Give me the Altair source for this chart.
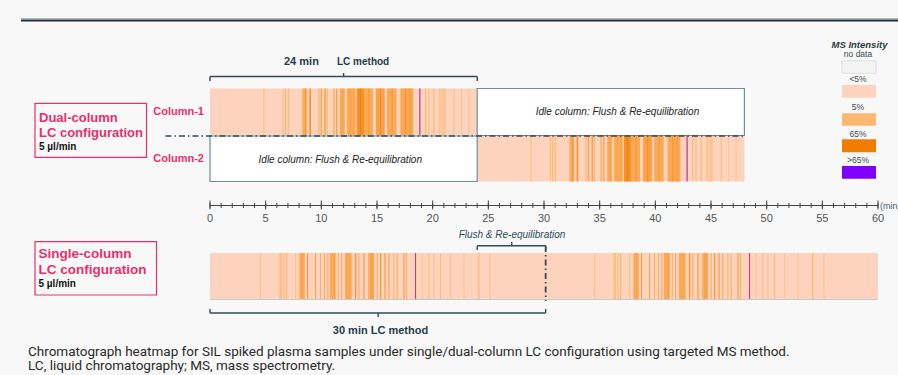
import altair as alt
import pandas as pd

# ---------------- data ----------------
# Dual-column chromatogram stripes: start time [min], width [min], MS intensity [%]
dual_t = [4.79, 6.53, 6.74, 6.98, 8.29, 8.52, 8.92, 9.73, 9.94, 10.27, 10.48, 11.08, 11.32,
          11.68, 12.28, 12.55, 12.85, 13.18, 13.45, 13.83, 14.2, 14.9, 15.25, 15.9, 16.3,
          17.1, 17.5, 17.9, 18.8, 19.31, 19.6, 20.06, 20.6, 20.82, 21.86, 22.55, 23.2]
dual_w = [0.10, 0.10, 0.10, 0.10, 0.42, 0.10, 0.16, 0.10, 0.12, 0.12, 0.10, 0.12, 0.12,
          0.42, 0.80, 0.10, 0.10, 0.65, 0.10, 0.80, 0.12, 0.80, 0.12, 0.85, 0.12,
          1.15, 0.12, 0.12, 0.10, 0.10, 0.10, 0.10, 0.10, 0.35, 0.10, 0.10, 0.10]
dual_i = [4, 5, 9, 5, 18, 36, 38, 12, 26, 34, 9, 18, 26,
          22, 17, 30, 26, 44, 60, 20, 34, 27, 45, 19, 32,
          21, 36, 32, 88, 5, 4, 7, 5, 3, 4, 3, 3]

# Single-column chromatogram stripes (one 30-min injection, repeated)
single_t = [4.49, 6.23, 6.35, 6.59, 6.83, 7.64, 8.02, 8.23, 8.71, 9.43, 9.88, 10.24, 10.54,
            10.78, 11.17, 11.47, 11.77, 12.13, 13.02, 13.32, 13.77, 14.22, 14.37, 14.97,
            15.27, 15.66, 16.02, 16.47, 16.77, 17.37, 17.6, 18.41, 19.01, 19.61, 20.06,
            20.66, 21.56, 22.76, 24.1, 25.09]
single_w = [0.10, 0.10, 0.10, 0.10, 0.10, 0.10, 0.50, 0.10, 0.10, 0.10, 0.10, 0.10, 0.10,
            0.45, 0.10, 0.10, 0.10, 0.60, 0.12, 0.10, 0.12, 0.12, 0.36, 0.10,
            0.12, 0.12, 0.10, 0.10, 0.10, 0.12, 0.10, 0.10, 0.10, 0.10, 0.10,
            0.10, 0.10, 0.10, 0.10, 0.10]
single_i = [3, 4, 9, 5, 9, 3, 16, 32, 36, 24, 9, 14, 19,
            19, 40, 12, 17, 21, 40, 18, 26, 30, 26, 14,
            32, 26, 21, 9, 12, 26, 14, 82, 3, 4, 3,
            4, 3, 3, 6, 3]

axis_major = [0, 5, 10, 15, 20, 25, 30, 35, 40, 45, 50, 55, 60]
axis_minor = list(range(0, 61))

legend_labels = ["<5%", "5%", "65%", ">65%"]
legend_levels = [0, 5, 65, 100]
legend_colors = ["#fdd3bd", "#fdb872", "#f27c00", "#8000ff"]

caption = ["Chromatograph heatmap for SIL spiked plasma samples under single/dual-column LC configuration using targeted MS method.",
           "LC, liquid chromatography; MS, mass spectrometry."]

# ---------------- layout ----------------
W, H = 898, 375
X0PX, X60PX = 210, 878
PPM = (X60PX - X0PX) / 60.0
xs = alt.Scale(domain=[-X0PX / PPM, (W - X0PX) / PPM], nice=False, zero=False)
ys = alt.Scale(domain=[0, H], reverse=True, nice=False, zero=False)
cs = alt.Scale(type="linear", domain=legend_levels, range=legend_colors, interpolate="rgb")

FONT = "Liberation Sans"
PINK = "#e8306c"
TEAL = "#1f3d48"
BRK = "#2c4c57"


def X(f):
    return alt.X(f"{f}:Q", scale=xs, axis=None)


def Y(f):
    return alt.Y(f"{f}:Q", scale=ys, axis=None)


def block(ts, ws, its, shift, t_end, top, bottom):
    rows = [dict(start=shift, end=shift + t_end, intensity=0, top=top, bottom=bottom)]
    for t, w, i in sorted(zip(ts, ws, its), key=lambda r: -r[1]):
        if t < t_end:
            rows.append(dict(start=shift + t, end=shift + min(t + w, t_end),
                             intensity=i, top=top, bottom=bottom))
    return rows


heat = pd.DataFrame(
    block(dual_t, dual_w, dual_i, 0, 24, 88.5, 135.5)
    + block(dual_t, dual_w, dual_i, 24, 24, 136, 181.5)
    + block(single_t, single_w, single_i, 0, 30, 253, 299)
    + block(single_t, single_w, single_i, 30, 30, 253, 299)
)

layers = []

# heatmaps
layers.append(alt.Chart(heat).mark_rect(strokeWidth=0).encode(
    x=X("start"), x2="end", y=Y("top"), y2="bottom",
    color=alt.Color("intensity:Q", scale=cs, legend=None)))

# baseline under single-column heatmap
layers.append(alt.Chart(pd.DataFrame({"a": [0], "b": [60], "y": [299.5]})).mark_rule(
    color="#c9c9c9", strokeWidth=1).encode(x=X("a"), x2="b", y=Y("y")))

# idle boxes
idle = pd.DataFrame({"start": [24, 0], "end": [48, 24], "top": [88.5, 136], "bottom": [135.5, 181.5]})
layers.append(alt.Chart(idle).mark_rect(fill="white", stroke="#6f8d97", strokeWidth=1.2).encode(
    x=X("start"), x2="end", y=Y("top"), y2="bottom"))
idle_txt = pd.DataFrame({"x": [36.6, 11.7], "y": [115, 163.3],
                         "t": ["Idle column: Flush & Re-equilibration"] * 2})
layers.append(alt.Chart(idle_txt).mark_text(font=FONT, fontSize=10, fontStyle="italic",
                                            color="#222222", baseline="alphabetic").encode(
    x=X("x"), y=Y("y"), text="t:N"))

# dash-dot separators
layers.append(alt.Chart(pd.DataFrame({"a": [-4.0], "b": [48], "y": [136]})).mark_rule(
    color=BRK, strokeWidth=1.6, strokeDash=[6, 3, 1.5, 3]).encode(x=X("a"), x2="b", y=Y("y")))
layers.append(alt.Chart(pd.DataFrame({"x": [30.15], "a": [246], "b": [301]})).mark_rule(
    color=BRK, strokeWidth=1.8, strokeDash=[6, 3, 1.5, 3]).encode(x=X("x"), y=Y("a"), y2="b"))

# brackets
hseg = pd.DataFrame({"a": [0, 24, 0], "b": [24, 30.15, 30.15], "y": [76.5, 245.7, 313]})
layers.append(alt.Chart(hseg).mark_rule(color=BRK, strokeWidth=1.4).encode(
    x=X("a"), x2="b", y=Y("y")))
vseg = pd.DataFrame({"x": [0, 24, 12, 24, 30.15, 27.1, 0, 30.15, 15.1],
                     "a": [76.5, 76.5, 73, 245.7, 245.7, 242, 309, 309, 313],
                     "b": [81, 81, 76.5, 250, 250, 245.7, 313, 313, 317]})
layers.append(alt.Chart(vseg).mark_rule(color=BRK, strokeWidth=1.4).encode(
    x=X("x"), y=Y("a"), y2="b"))

# time axis
layers.append(alt.Chart(pd.DataFrame({"a": [0], "b": [60], "y": [205.5]})).mark_rule(
    color="#444444", strokeWidth=1).encode(x=X("a"), x2="b", y=Y("y")))
layers.append(alt.Chart(pd.DataFrame({"x": axis_minor})).mark_rule(
    color="#444444", strokeWidth=1).encode(x=X("x"), y=alt.value(203), y2=alt.value(208)))
layers.append(alt.Chart(pd.DataFrame({"x": axis_major})).mark_rule(
    color="#444444", strokeWidth=1).encode(x=X("x"), y=alt.value(200.5), y2=alt.value(209.5)))
layers.append(alt.Chart(pd.DataFrame({"x": axis_major})).mark_text(
    font=FONT, fontSize=11, color="#555555", baseline="alphabetic").encode(
    x=X("x"), y=alt.value(222), text=alt.Text("x:Q", format="d")))


def ptext(t, x, y, size, color, weight="normal", style="normal", align="left", font=FONT,
          baseline="alphabetic"):
    return alt.Chart(pd.DataFrame({"t": [t]})).mark_text(
        font=font, fontSize=size, color=color, fontWeight=weight, fontStyle=style,
        align=align, baseline=baseline).encode(x=alt.value(x), y=alt.value(y), text="t:N")


def prect(x0, x1, y0, y1, stroke, fill="none", sw=1.2):
    return alt.Chart(pd.DataFrame({"a": [0]})).mark_rect(
        stroke=stroke, fill=fill, strokeWidth=sw,
        fillOpacity=0 if fill == "none" else 1).encode(
        x=alt.value(x0), x2=alt.value(x1), y=alt.value(y0), y2=alt.value(y1))


layers.append(ptext("(min)", 880, 205.5, 9, "#3d6272", baseline="middle"))

# top rule
layers.append(alt.Chart(pd.DataFrame({"a": [0]})).mark_rule(color="#a7b8bf", strokeWidth=1).encode(
    x=alt.value(21), x2=alt.value(898), y=alt.value(18.5)))
layers.append(alt.Chart(pd.DataFrame({"a": [0]})).mark_rule(color="#1b2f3a", strokeWidth=2).encode(
    x=alt.value(21), x2=alt.value(898), y=alt.value(20.5)))

# annotations
layers.append(ptext("24 min", 284, 65, 11, TEAL, weight="bold"))
layers.append(ptext("LC method", 337, 65, 10, TEAL, weight="bold"))
layers.append(ptext("30 min LC method", 380.5, 334, 11, TEAL, weight="bold", align="center"))
layers.append(ptext("Flush & Re-equilibration", 512, 237.7, 10, BRK, style="italic", align="center"))

# configuration labels
layers.append(prect(35, 146.5, 103.3, 157.3, PINK))
layers.append(ptext("Dual-column", 39, 121.7, 13, PINK, weight="bold"))
layers.append(ptext("LC configuration", 39, 136.7, 13, PINK, weight="bold"))
layers.append(ptext("5 µl/min", 39, 150, 10, "#111111", weight="bold"))
layers.append(ptext("Column-1", 204, 115, 11, PINK, weight="bold", align="right"))
layers.append(ptext("Column-2", 204, 161.7, 11, PINK, weight="bold", align="right"))

layers.append(prect(35, 156.5, 241.7, 295, PINK))
layers.append(ptext("Single-column", 38.5, 257.7, 13.5, PINK, weight="bold"))
layers.append(ptext("LC configuration", 38.5, 274, 13.5, PINK, weight="bold"))
layers.append(ptext("5 µl/min", 38.5, 287.3, 10, "#111111", weight="bold"))

# legend
layers.append(ptext("MS Intensity", 859.5, 48.3, 9.5, TEAL, weight="bold", style="italic", align="center"))
layers.append(ptext("no data", 858, 56.7, 8.5, "#3b4b52", align="center"))
layers.append(prect(842, 876, 60.7, 73.3, "#e0e0e0", fill="#f3f3f3", sw=1))
leg = pd.DataFrame({"label": legend_labels, "level": legend_levels,
                    "top": [85, 113.3, 139.3, 166], "bottom": [97.7, 125.7, 152.3, 178.7],
                    "ly": [82.3, 110, 136.7, 162.7]})
layers.append(alt.Chart(leg).mark_rect(strokeWidth=0).encode(
    x=alt.value(842), x2=alt.value(876), y=Y("top"), y2="bottom",
    color=alt.Color("level:Q", scale=cs, legend=None)))
layers.append(alt.Chart(leg).mark_text(font=FONT, fontSize=8.5, color="#3b4b52",
                                       baseline="alphabetic").encode(
    x=alt.value(858), y=Y("ly"), text="label:N"))

# caption
layers.append(ptext(caption[0], 28, 355.5, 13.5, "#2a2a2a", font="Roboto"))
layers.append(ptext(caption[1], 28, 370, 13.5, "#2a2a2a", font="Roboto"))

chart = alt.layer(*layers).properties(
    width=W, height=H, padding=0,
    autosize=alt.AutoSizeParams(type="none"),
    background="#f8f8f8",
).configure_view(stroke=None)

chart.save("out.html", embed_options={"renderer": "svg", "actions": False})
